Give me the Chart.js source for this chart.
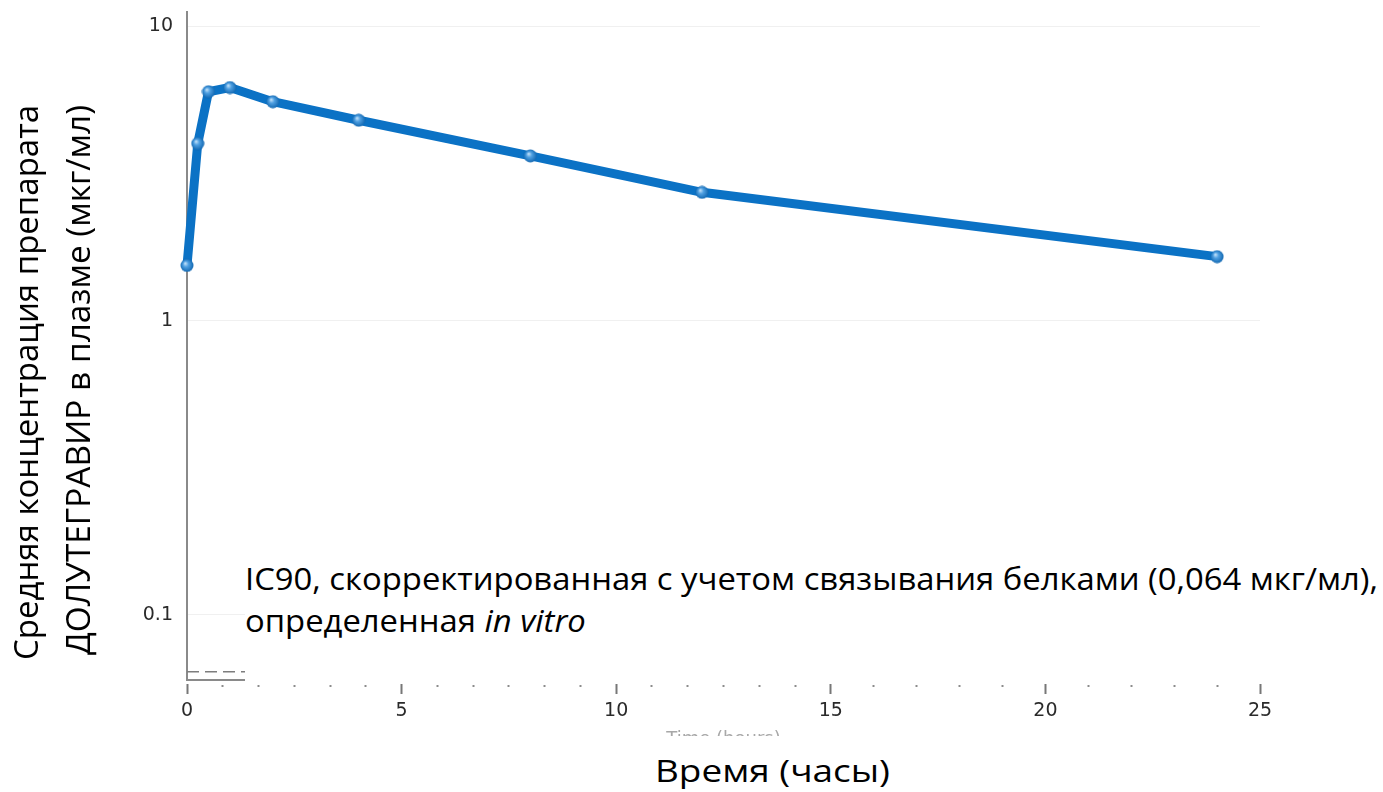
<!DOCTYPE html>
<html>
<head>
<meta charset="utf-8">
<title>Долутегравир: концентрация в плазме</title>
<script src="https://cdn.jsdelivr.net/npm/chart.js@4/dist/chart.umd.min.js"></script>
<style>
  html, body { margin: 0; padding: 0; background: #fff; overflow: hidden; }
  #wrap { position: relative; width: 1383px; height: 792px; }
  #chart { position: absolute; left: 0; top: 0; filter: blur(0.6px); }
  .txt { position: absolute; font-family: 'Open Sans', 'Noto Sans', sans-serif; color: #000; white-space: nowrap; }
  .fit { display: inline-block; transform-origin: 0 0; }
  #ytitle { left: 0px; top: 660px; font-size: 32px; line-height: 52px; transform-origin: 0 0; }
  #yl2 { margin-left: 5px; }
  #note { left: 245px; top: 557px; width: 1138px; height: 126px; background: #fff; font-size: 31px; line-height: 42px; }
  #xtitle { left: 640px; top: 736px; padding-left: 15px; width: 320px; height: 56px; background: #fff; font-size: 31px; line-height: 68px; }
</style>
</head>
<body>
<div id="wrap">
  <canvas id="chart" width="1383" height="792"></canvas>
  <div id="ytitle" class="txt">
    <div><span class="fit" id="yl1">Средняя концентрация препарата</span></div>
    <div><span class="fit" id="yl2">ДОЛУТЕГРАВИР в плазме (мкг/мл)</span></div>
  </div>
  <div id="note" class="txt">
    <span class="fit" id="noteInner">IC90, скорректированная с учетом связывания белками (0,064 мкг/мл),<br>определенная <i>in vitro</i></span>
  </div>
  <div id="xtitle" class="txt"><span class="fit" id="xInner">Время (часы)</span></div>
</div>
<script>
// Mean plasma concentration of dolutegravir over time (log scale)
const timeHours = [0, 0.25, 0.5, 1, 2, 4, 8, 12, 24];
const meanConcentration = [1.54, 4.0, 6.0, 6.2, 5.55, 4.8, 3.63, 2.73, 1.65];

// Protein-binding adjusted IC90 (µg/mL)
const ic90Level = 0.064;

// Axis ticks
const xMajorTicks = [0, 5, 10, 15, 20, 25];
const xMinorTicks = [0.833, 1.667, 2.5, 3.333, 4.167,
                     5.833, 6.667, 7.5, 8.333, 9.167,
                     10.833, 11.667, 12.5, 13.333, 14.167,
                     16, 17, 18, 19,
                     21, 22, 23, 24];
const yTickValues = [0.1, 1, 10];

const isMajor = v => xMajorTicks.includes(v);
const tickFont = { family: 'DejaVu Sans', size: 19 };

// Shaded round marker used for every measurement point
function makeMarker(size) {
  const c = document.createElement('canvas');
  c.width = size; c.height = size;
  const g = c.getContext('2d');
  const r = size / 2;
  const grad = g.createRadialGradient(r * 0.75, r * 0.7, 0.5, r, r, r);
  grad.addColorStop(0, '#b9dcf7');
  grad.addColorStop(0.35, '#4fa0e2');
  grad.addColorStop(1, '#0d63ad');
  g.fillStyle = grad;
  g.beginPath();
  g.arc(r, r, r - 0.5, 0, Math.PI * 2);
  g.fill();
  return c;
}
const marker = makeMarker(14);

new Chart(document.getElementById('chart'), {
  type: 'line',
  data: {
    datasets: [
      {
        label: 'IC90',
        data: [
          { x: xMajorTicks[0], y: ic90Level },
          { x: xMajorTicks[xMajorTicks.length - 1], y: ic90Level }
        ],
        borderColor: '#7d7d7d',
        borderWidth: 1.6,
        borderDash: [12, 6],
        pointRadius: 0,
        order: 2
      },
      {
        label: 'Долутегравир',
        data: timeHours.map((t, i) => ({ x: t, y: meanConcentration[i] })),
        borderColor: '#0b72c5',
        borderWidth: 9,
        borderJoinStyle: 'round',
        borderCapStyle: 'round',
        tension: 0,
        pointStyle: marker,
        pointRadius: 7,
        clip: false,
        order: 1
      }
    ]
  },
  options: {
    responsive: false,
    animation: false,
    devicePixelRatio: 1,
    layout: { autoPadding: false, padding: { top: 12, right: 123, bottom: 0, left: 0 } },
    plugins: { legend: { display: false }, tooltip: { enabled: false } },
    scales: {
      x: {
        type: 'linear',
        min: 0,
        max: 25,
        afterBuildTicks: s => {
          s.ticks = [...xMajorTicks, ...xMinorTicks].sort((a, b) => a - b).map(v => ({ value: v }));
        },
        afterFit: s => { s.height = 112; s.paddingLeft = 0; s.paddingRight = 0; },
        ticks: {
          autoSkip: false,
          maxRotation: 0,
          padding: 6,
          color: '#2a2a2a',
          font: tickFont,
          callback: v => (isMajor(v) ? String(v) : '')
        },
        grid: {
          drawOnChartArea: false,
          drawTicks: true,
          tickLength: 14,
          tickWidth: 2,
          tickColor: c => (isMajor(c.tick.value) ? '#777' : '#8c8c8c'),
          tickBorderDash: c => (isMajor(c.tick.value) ? [10, 100] : [2, 100]),
          tickBorderDashOffset: c => (isMajor(c.tick.value) ? 107 : 98)
        },
        border: { display: true, color: '#8a8a8a', width: 2 },
        title: {
          display: true,
          text: 'Time (hours)',
          color: '#a8a8a8',
          font: { family: 'DejaVu Sans', size: 18 },
          padding: { top: 0, bottom: 42 }
        }
      },
      y: {
        type: 'logarithmic',
        min: 0.06,
        max: 11.2,
        afterBuildTicks: s => { s.ticks = yTickValues.map(v => ({ value: v })); },
        afterFit: s => { s.width = 187; s.paddingTop = 0; s.paddingBottom = 0; },
        ticks: {
          padding: 14,
          color: '#2a2a2a',
          font: tickFont,
          callback: v => String(v)
        },
        grid: { drawTicks: false, color: '#f0f0f0', lineWidth: 1 },
        border: { display: true, color: '#8a8a8a', width: 2 }
      }
    }
  }
});

// Stretch the captions horizontally to their target lengths
function stretchTo(el, target) {
  const w = el.getBoundingClientRect().width;
  return w > 0 ? target / w : 1;
}
function layoutCaptions() {
  const yl1 = document.getElementById('yl1');
  const yl2 = document.getElementById('yl2');
  yl1.style.transform = 'scaleX(' + stretchTo(yl1, 555) + ')';
  yl2.style.transform = 'scaleX(' + stretchTo(yl2, 550) + ')';
  document.getElementById('ytitle').style.transform = 'rotate(-90deg)';

  const note = document.getElementById('noteInner');
  const r = document.createRange();
  r.setStart(note.firstChild, 0);
  r.setEnd(note.firstChild, note.firstChild.textContent.length);
  const firstLineWidth = r.getBoundingClientRect().width;
  note.style.transform = 'scaleX(' + (1133 / firstLineWidth) + ')';

  const xi = document.getElementById('xInner');
  xi.style.transform = 'scaleX(' + stretchTo(xi, 235) + ')';
}
function resetCaptions() {
  ['yl1', 'yl2', 'noteInner', 'xInner', 'ytitle'].forEach(id => { document.getElementById(id).style.transform = ''; });
}
layoutCaptions();
if (document.fonts && document.fonts.ready) {
  document.fonts.ready.then(() => { resetCaptions(); layoutCaptions(); });
}
</script>
</body>
</html>
